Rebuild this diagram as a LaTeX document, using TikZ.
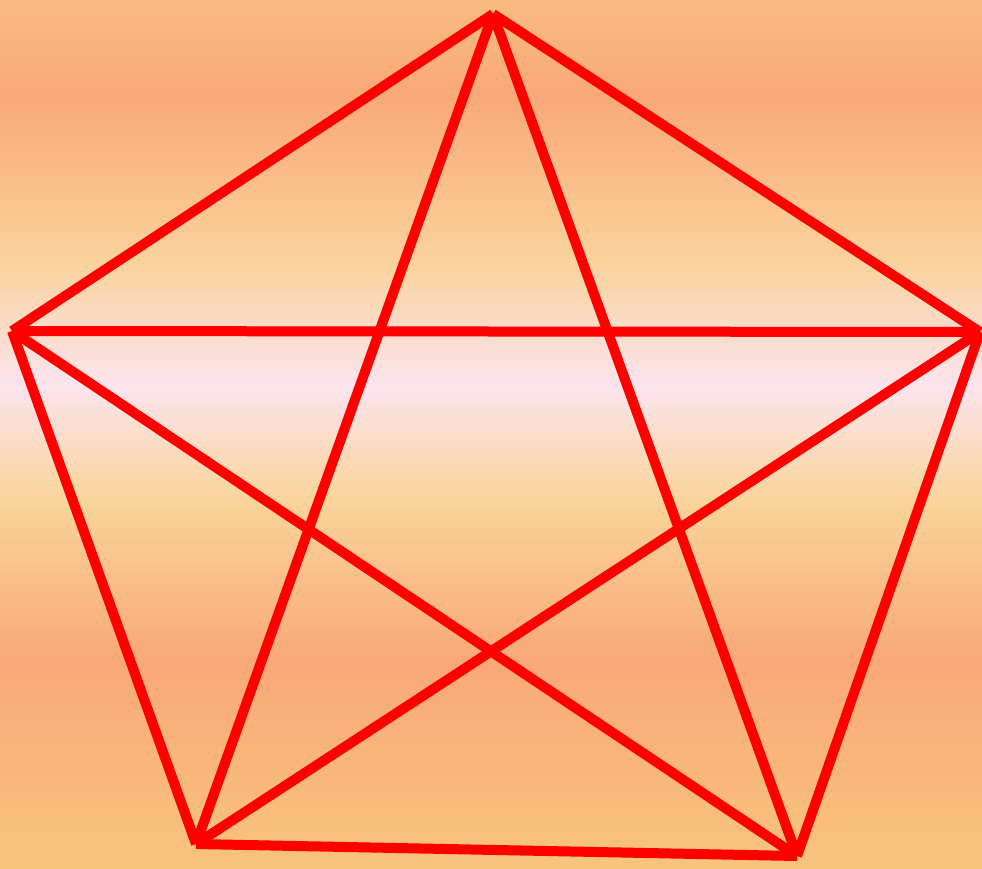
\documentclass[tikz,border=0pt]{standalone}
\begin{document}
\begin{tikzpicture}[x=1pt,y=-1pt,edge/.style={draw=red,line width=10pt,line cap=butt}]
\definecolor{bA}{HTML}{F8BC80}
\definecolor{bB}{HTML}{F9A878}
\definecolor{bC}{HTML}{FAD29C}
\definecolor{bD}{HTML}{FCE4EE}
\definecolor{bE}{HTML}{F9D49A}
\definecolor{bF}{HTML}{F9A878}
\definecolor{bG}{HTML}{F8C47C}
\useasboundingbox (0,0) rectangle (982,868);
\shade[top color=bA,bottom color=bB] (0,0) rectangle (982,95.5);
\shade[top color=bB,bottom color=bC] (0,95) rectangle (982,260.5);
\shade[top color=bC,bottom color=bD] (0,260) rectangle (982,385.5);
\shade[top color=bD,bottom color=bE] (0,385) rectangle (982,500.5);
\shade[top color=bE,bottom color=bF] (0,500) rectangle (982,660.5);
\shade[top color=bF,bottom color=bG] (0,660) rectangle (982,868);
\coordinate (t) at (493,14);
\coordinate (l) at (12,331);
\coordinate (r) at (980,332);
\coordinate (bl) at (196,844);
\coordinate (br) at (797,856);
\foreach \a/\b in {t/l,t/r,l/r,l/bl,r/br,bl/br,t/bl,t/br,l/br,r/bl}
  \draw[edge] (\a) -- (\b);
\end{tikzpicture}
\end{document}
